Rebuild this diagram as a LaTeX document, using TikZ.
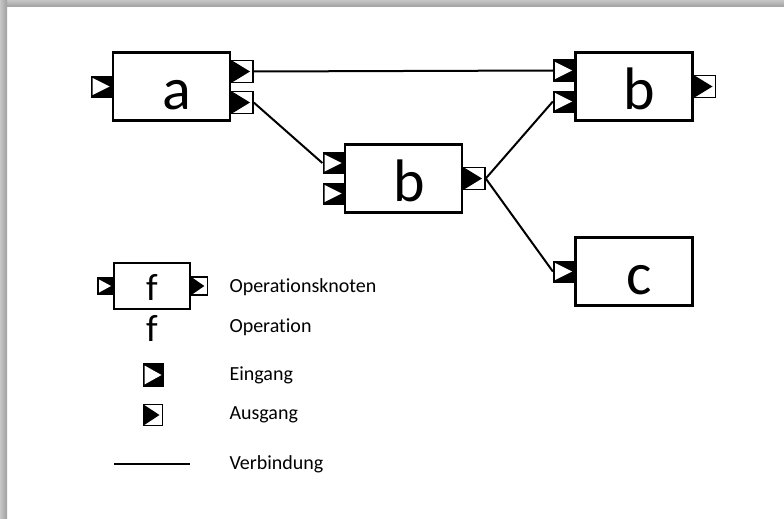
\documentclass[tikz,border=0pt]{standalone}
\usepackage{fontspec}
\setmainfont{Carlito}[Ligatures=NoCommon]
\usepackage{tikz}
\usetikzlibrary{positioning, calc}

\begin{document}
\begin{tikzpicture}[
    x=1pt, y=-1pt,
    opbase/.style={draw, rectangle, line width=2.5pt, fill=white, inner sep=0pt,
                   minimum width=117pt, minimum height=68pt,
                   text height=45pt, text depth=0pt,
                   font=\fontsize{60}{60}\selectfont},
    opnode/.style={opbase, execute at begin node={\hspace*{11pt}}},
    inport/.style={rectangle, fill=black, inner sep=0pt,
                   minimum width=21pt, minimum height=22pt,
                   path picture={\fill[white]
                     ([shift={(2pt,-2.5pt)}]path picture bounding box.north west) --
                     ([shift={(2pt,2.5pt)}]path picture bounding box.south west) --
                     ([xshift=-2pt]path picture bounding box.east) -- cycle;}},
    outport/.style={draw, rectangle, line width=1.5pt, fill=white, inner sep=0pt,
                    minimum width=21pt, minimum height=22pt,
                    path picture={\fill[black]
                      (path picture bounding box.north west) --
                      (path picture bounding box.south west) --
                      ([xshift=-3pt]path picture bounding box.east) -- cycle;}},
    small/.style={minimum width=16pt, minimum height=18pt},
    conn/.style={line width=2pt},
    legtext/.style={anchor=west, font=\fontsize{20}{24}\selectfont}
  ]
  \useasboundingbox (0,0) rectangle (784,519);
  % Frame shadow
  \shade[top color=gray!45, bottom color=gray!75] (0,0) rectangle (784,7);
  \shade[left color=gray!45, right color=gray!75] (0,0) rectangle (7,519);

  % Operation nodes
  \node[opnode] (a)  at (171.5,86.5)  {a};
  \node[opnode] (b1) at (403.5,178.5) {b};
  \node[opnode] (b2) at (634,86.5)    {b};
  \node[opnode] (c)  at (634,271.5)   {c};

  % Ports
  \node[inport, anchor=east]  (a-i)   at (a.west) {};
  \node[outport, anchor=west] (a-o1)  at ([yshift=15pt]a.east) {};
  \node[outport, anchor=west] (a-o2)  at ([yshift=-16pt]a.east) {};
  \node[inport, anchor=east]  (b1-i1) at ([yshift=15.5pt]b1.west) {};
  \node[inport, anchor=east]  (b1-i2) at ([yshift=-15pt]b1.west) {};
  \node[outport, anchor=west] (b1-o)  at (b1.east) {};
  \node[inport, anchor=east]  (b2-i1) at ([yshift=16pt]b2.west) {};
  \node[inport, anchor=east]  (b2-i2) at ([yshift=-15pt]b2.west) {};
  \node[outport, anchor=west] (b2-o)  at (b2.east) {};
  \node[inport, anchor=east]  (c-i)   at (c.west) {};

  % Connections
  \draw[conn] (a-o1.east) -- (b2-i1.west);
  \draw[conn] (a-o2.east) -- (b1-i1.west);
  \draw[conn] (b1-o.east) -- (b2-i2.west);
  \draw[conn] (b1-o.east) -- (c-i.west);

  % Legend
  \node[opbase, line width=1.5pt, minimum width=76pt, minimum height=46pt,
        text height=28pt, font=\fontsize{38}{38}\selectfont] (f) at (152,286) {f};
  \node[inport, small, anchor=east]  (f-i) at (f.west) {};
  \node[outport, small, anchor=west, line width=1.2pt] (f-o) at (f.east) {};
  \node[font=\fontsize{38}{38}\selectfont, inner sep=0pt,
        text height=28pt, text depth=0pt] (op) at (152,327) {f};
  \node[inport, minimum height=24pt] (in) at (153,375) {};
  \node[outport, minimum width=19pt, minimum height=21pt] (out) at (153,415) {};
  \coordinate (l1) at (114,464);
  \coordinate (l2) at (190,464);
  \draw[line width=2.5pt] (l1) -- (l2);
  \foreach \y/\txt in {287/Operationsknoten, 327/Operation, 375/Eingang,
                       415/Ausgang, 464/Verbindung} {
    \node[legtext] at (226,\y) {\txt};
  }
\end{tikzpicture}
\end{document}
